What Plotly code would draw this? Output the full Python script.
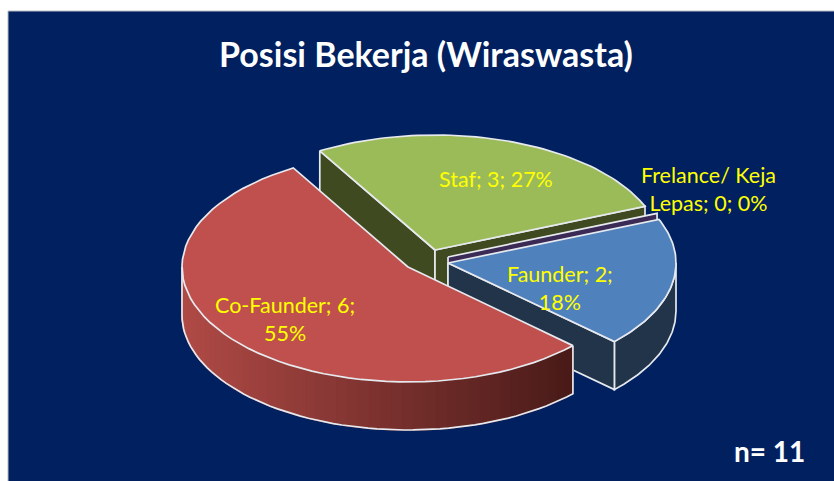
import math
import plotly.graph_objects as go

# ---- data ----
categories = ["Staf", "Frelance/ Keja<br>Lepas", "Faunder", "Co-Faunder"]
values = [3, 0, 2, 6]
percents = [27, 0, 18, 55]
pct_breaks = ["; ", "; ", ";<br>", ";<br>"]
title_text = "Posisi Bekerja (Wiraswasta)"
note_text = "n= 11"

# ---- style and projection of the tilted pie (pixels) ----
W, H = 834, 481
NAVY = "#002060"
EDGE = "#E6E9EE"
TOP = ["#9BBB59", "#8064A2", "#4F81BD", "#C0504D"]
SIDE = ["#3F4A20", "#3A2A55", "#22344A", None]
RED_SIDE_LEFT = (176, 74, 70)
RED_SIDE_RIGHT = (72, 26, 24)
FIRST_ANGLE = -30.5
DEPTH = 48
RY = 115
RX = [227, 226, 228, 226]
CENTER = [(435, 250), (448, 257), (448, 263), (408, 267)]
LABEL_POS = [(496, 179), (708, 189), (560, 288), (285, 319)]
FONT = "Lato"

total = sum(values)
starts, ends = [], []
acc = FIRST_ANGLE
for v in values:
    starts.append(acc)
    acc += v / total * 360
    ends.append(acc)


def rim(i, deg, drop=0):
    t = math.radians(deg)
    cx, cy = CENTER[i]
    return cx + RX[i] * math.sin(t), cy - RY * math.cos(t) + drop


def arc(i, a0, a1, drop=0, n=60):
    pts = [rim(i, a0 + (a1 - a0) * k / n, drop) for k in range(n + 1)]
    return pts


fig = go.Figure()


def poly(pts, fill, line=EDGE, width=1.7, closed=True):
    xs = [p[0] for p in pts]
    ys = [p[1] for p in pts]
    if closed:
        xs.append(xs[0])
        ys.append(ys[0])
    fig.add_trace(go.Scatter(
        x=xs, y=ys, mode="lines",
        fill="toself" if fill else "none",
        fillcolor=fill,
        line=dict(color=line if line else fill, width=width if line else 1.6),
        hoverinfo="skip", showlegend=False,
    ))


def cut_face(i, deg, color):
    c = CENTER[i]
    r = rim(i, deg)
    poly([c, r, (r[0], r[1] + DEPTH), (c[0], c[1] + DEPTH)], color)


def top_face(i):
    poly([CENTER[i]] + arc(i, starts[i], ends[i]), TOP[i])


# rear slice: Staf
cut_face(0, starts[0], SIDE[0])
cut_face(0, ends[0], SIDE[0])
top_face(0)

# zero-sized slice: only its cut face shows
cut_face(1, starts[1], SIDE[1])

# Faunder
poly(arc(2, ends[2], 90) + arc(2, 90, ends[2], DEPTH), SIDE[2])
cut_face(2, ends[2], SIDE[2])
top_face(2)

# Co-Faunder outer wall with a horizontal gradient
n_strips = 48
wall_a0, wall_a1 = ends[2], 270
for k in range(n_strips):
    a0 = wall_a0 + (wall_a1 - wall_a0) * k / n_strips
    a1 = wall_a0 + (wall_a1 - wall_a0) * (k + 1) / n_strips
    xm = (rim(3, a0)[0] + rim(3, a1)[0]) / 2
    f = (xm - 182) / (573 - 182)
    col = tuple(round(RED_SIDE_LEFT[j] + (RED_SIDE_RIGHT[j] - RED_SIDE_LEFT[j]) * f) for j in range(3))
    col = "rgb(%d,%d,%d)" % col
    poly(arc(3, a0, a1, n=4) + arc(3, a1, a0, DEPTH, n=4), col, line=None)
poly([rim(3, wall_a0)] + arc(3, wall_a0, wall_a1, DEPTH) + [rim(3, wall_a1)], None, closed=False)
top_face(3)

# data labels
for i in range(len(values)):
    fig.add_annotation(
        x=LABEL_POS[i][0], y=LABEL_POS[i][1], xref="x", yref="y",
        text=f"{categories[i]}; {values[i]}{pct_breaks[i]}{percents[i]}%",
        showarrow=False, align="center",
        font=dict(family=FONT, size=21.5, color="#FFFF00"),
    )

fig.add_annotation(
    x=769, y=451, xref="x", yref="y", text=f"<b>{note_text}</b>", showarrow=False,
    font=dict(family=FONT, size=28, color="white"),
)

fig.update_layout(
    width=W, height=H, autosize=False,
    margin=dict(l=0, r=0, t=0, b=0),
    paper_bgcolor="white", plot_bgcolor="rgba(0,0,0,0)",
    title=dict(text=f"<b>{title_text}</b>", x=426 / W, y=1 - 55 / H, xanchor="center", yanchor="middle",
               font=dict(family=FONT, size=34, color="white")),
    xaxis=dict(range=[0, W], visible=False, fixedrange=True),
    yaxis=dict(range=[H, 0], visible=False, fixedrange=True),
    shapes=[dict(type="rect", xref="x", yref="y", x0=8, y0=11, x1=W + 5, y1=H + 5,
                 fillcolor=NAVY, line=dict(color="#B8BCC4", width=1), layer="below")],
)

fig.write_html("out.html", config=dict(displayModeBar=False),
               post_script="document.body.style.margin='0';document.body.style.overflow='hidden';")
